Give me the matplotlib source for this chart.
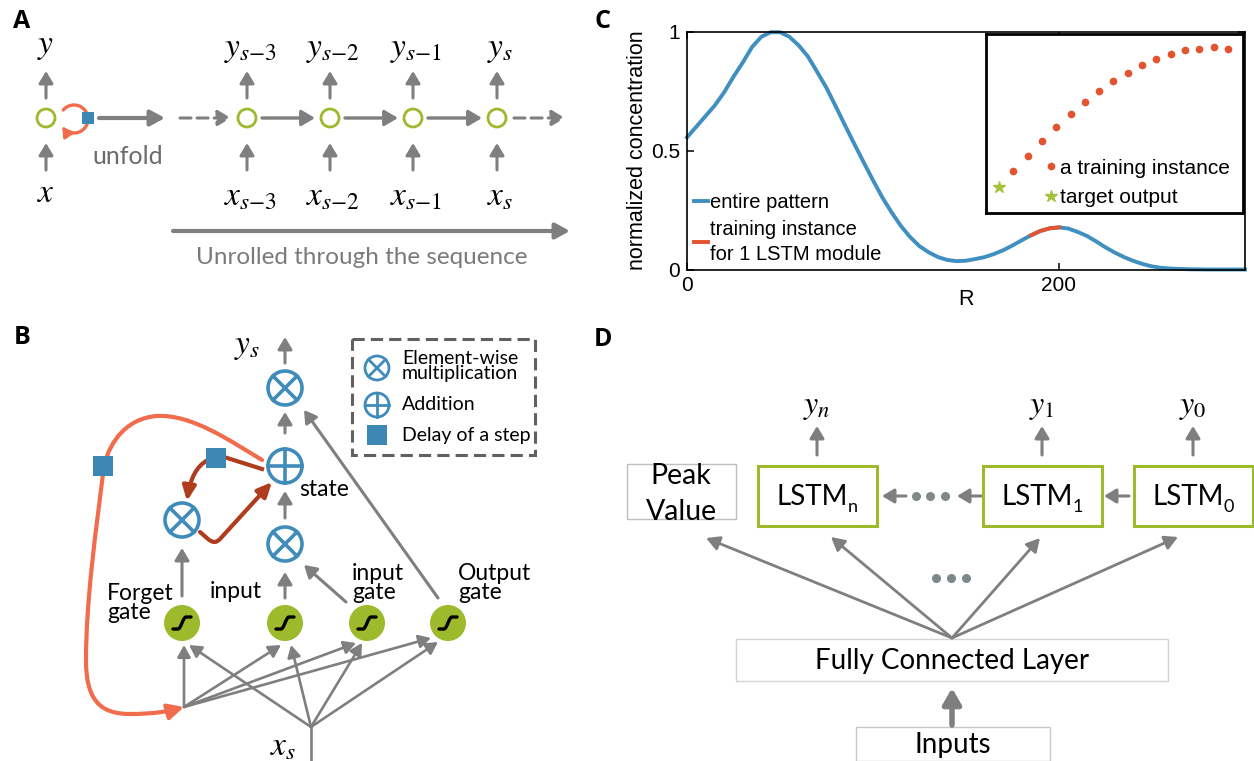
import numpy as np
import matplotlib.pyplot as plt
from matplotlib.patches import Circle, Rectangle, FancyArrowPatch, ArrowStyle
from matplotlib.path import Path

plt.rcParams['mathtext.fontset'] = 'stix'
plt.rcParams['font.family'] = ['Lato', 'DejaVu Sans']

# ---- panel C: concentration profile ----
r_pos = [0, 5, 10, 15, 20, 25, 30, 35, 40, 45, 50, 55, 60, 65, 70, 75, 80, 85, 90, 95,
         100, 105, 110, 115, 120, 125, 130, 135, 140, 145, 150, 155, 160, 165, 170, 175,
         180, 185, 190, 195, 200, 205, 210, 215, 220, 225, 230, 235, 240, 245, 250, 255,
         260, 270, 280, 290, 300]
conc = [0.555, 0.60, 0.645, 0.69, 0.745, 0.81, 0.87, 0.935, 0.978, 0.997, 0.997, 0.978,
        0.942, 0.895, 0.83, 0.763, 0.685, 0.605, 0.527, 0.45, 0.375, 0.303, 0.24, 0.183,
        0.136, 0.098, 0.072, 0.052, 0.040, 0.035, 0.037, 0.044, 0.052, 0.065, 0.081, 0.101,
        0.123, 0.144, 0.162, 0.173, 0.177, 0.172, 0.158, 0.141, 0.118, 0.093, 0.071, 0.052,
        0.036, 0.023, 0.013, 0.007, 0.004, 0.001, 0.0, 0.0, 0.0]
train_from, train_to = 185, 200

# inset: one training instance and its target
inst_vals = [0.238, 0.322, 0.404, 0.480, 0.553, 0.622, 0.683, 0.740, 0.785, 0.830,
             0.862, 0.892, 0.911, 0.920, 0.929, 0.920]
target_val = 0.149

# ---- diagram labels ----
seq_y = [r'$y_{s{-}3}$', r'$y_{s{-}2}$', r'$y_{s{-}1}$', r'$y_s$']
seq_x = [r'$x_{s{-}3}$', r'$x_{s{-}2}$', r'$x_{s{-}1}$', r'$x_s$']
gate_names = ['Forget\ngate', 'input', 'input\ngate', 'Output\ngate']
legend_b = ['Element-wise\nmultiplication', 'Addition', 'Delay of a step']
lstm_subs = ['n', '1', '0']
lstm_out = [r'$y_n$', r'$y_1$', r'$y_0$']

GRAY = '#7f7f7f'
GREEN = '#9cba2c'
BLUE = '#3f8cba'
SQ = '#3d87b5'
ORANGE = '#f06c4d'
DARKRED = '#b03c1e'
CBLUE = '#3f8fc0'
CRED = '#e4532f'

fig = plt.figure(figsize=(12.54, 7.61), dpi=100)
ax = fig.add_axes([0, 0, 1, 1])
ax.set_xlim(0, 1254)
ax.set_ylim(761, 0)
ax.axis('off')


def arrow(p0, p1, color=GRAY, lw=2.2, hl=10, hw=12, ls='-', z=2):
    st = ArrowStyle('-|>', head_length=hl * 0.72, head_width=hw * 0.36)
    ax.add_patch(FancyArrowPatch(p0, p1, arrowstyle=st, mutation_scale=1, color=color,
                                 lw=lw, linestyle=ls, shrinkA=0, shrinkB=0, zorder=z))


def path_arrow(verts, codes, color, lw, hl=11, hw=12, z=2):
    st = ArrowStyle('-|>', head_length=hl * 0.72, head_width=hw * 0.36)
    ax.add_patch(FancyArrowPatch(path=Path(verts, codes), arrowstyle=st, mutation_scale=1,
                                 color=color, lw=lw, zorder=z))


def square(cx, cy, s):
    ax.add_patch(Rectangle((cx - s / 2, cy - s / 2), s, s, fc=SQ, ec='none', zorder=5))


def op(cx, cy, r, kind, lw=2.6):
    ax.add_patch(Circle((cx, cy), r, fc='white', ec=BLUE, lw=lw, zorder=4))
    if kind == 'mul':
        d = r * 0.707
        ax.plot([cx - d, cx + d], [cy - d, cy + d], color=BLUE, lw=lw, zorder=5)
        ax.plot([cx - d, cx + d], [cy + d, cy - d], color=BLUE, lw=lw, zorder=5)
    else:
        ax.plot([cx - r, cx + r], [cy, cy], color=BLUE, lw=lw, zorder=5)
        ax.plot([cx, cx], [cy - r, cy + r], color=BLUE, lw=lw, zorder=5)


def sigmoid(cx, cy):
    ax.add_patch(Circle((cx, cy), 18, fc=GREEN, ec='none', zorder=4))
    v = [(cx - 9, cy + 6), (cx - 4, cy + 6), (cx - 1, cy + 6), (cx + 1, cy - 6),
         (cx + 4, cy - 6), (cx + 9, cy - 6)]
    c = [Path.MOVETO, Path.LINETO, Path.CURVE4, Path.CURVE4, Path.CURVE4, Path.LINETO]
    ax.add_patch(FancyArrowPatch(path=Path(v, c), arrowstyle='-', color='black', lw=2.4,
                                 zorder=5))


# panel letters
for lab, (px, py) in zip('ABCD', [(22, 22), (22, 338), (602, 21), (603, 339)]):
    ax.text(px, py, lab, fontsize=18, fontweight='bold', family='Open Sans',
            ha='center', va='center')

# ================= panel A =================
cy = 118
ax.add_patch(Circle((46, cy), 9, fc='white', ec=GREEN, lw=2.0, zorder=4))
arrow((46, 98), (46, 71))
arrow((46, 170), (46, 143))
ax.text(46, 47, r'$y$', fontsize=24, ha='center', va='center')
ax.text(46, 193, r'$x$', fontsize=24, ha='center', va='center')
arc = Path.arc(-140, 145)
path_arrow(arc.vertices * 14 + [74, 119], arc.codes, ORANGE, 2.4, hl=7, hw=9, z=3)
square(88, 118, 12)
arrow((99, cy), (165, cy), lw=3.0, hl=12, hw=13)
ax.text(128, 157, 'unfold', fontsize=18, color='#6b6b6b', ha='center', va='center')

cells = [247, 330, 413, 497]
arrow((180, cy), (231, cy), ls=(0, (3.6, 2)), hl=11, hw=13)
arrow((514, cy), (565, cy), ls=(0, (3.6, 2)), hl=11, hw=13)
for i, cx in enumerate(cells):
    ax.add_patch(Circle((cx, cy), 9, fc='white', ec=GREEN, lw=2.0, zorder=4))
    arrow((cx, 98), (cx, 71))
    arrow((cx, 170), (cx, 143))
    ax.text(cx + 3, 50, seq_y[i], fontsize=24, ha='center', va='center')
    ax.text(cx + 3, 197, seq_x[i], fontsize=24, ha='center', va='center')
    if i < 3:
        arrow((cx + 15, cy), (cells[i + 1] - 15, cy), lw=2.4, hl=11, hw=13)
arrow((173, 231), (570, 231), lw=3.0, hl=12, hw=13)
ax.text(362, 257, 'Unrolled through the sequence', fontsize=17.5, color='#7a7a7a',
        ha='center', va='center')

# ================= panel B =================
op(285, 388, 17, 'mul')
op(285, 466, 17, 'add')
op(285, 544, 17, 'mul')
op(182, 520, 17, 'mul')
arrow((285, 363), (285, 337))
arrow((285, 433), (285, 412))
arrow((285, 518), (285, 491))
ax.text(247, 347, r'$y_s$', fontsize=24, ha='center', va='center')
ax.text(324, 490, 'state', fontsize=16.5, ha='center', va='center')

gates = [182, 285, 367, 448]
for gx in gates:
    sigmoid(gx, 623)
arrow((182, 596), (182, 548))
arrow((285, 598), (285, 572))
arrow((346, 602), (304, 565))
arrow((438, 598), (304, 410))
ax.text(107, 603, gate_names[0], fontsize=16.5, ha='left', va='center', linespacing=0.85)
ax.text(236, 592, gate_names[1], fontsize=16.5, ha='center', va='center')
ax.text(352, 583, gate_names[2], fontsize=16.5, ha='left', va='center', linespacing=0.85)
ax.text(458, 583, gate_names[3], fontsize=16.5, ha='left', va='center', linespacing=0.85)

# inputs fanning into the gates
f1, f2 = (184, 707), (311, 727)
for tip in [(184, 645), (281, 645), (356, 643), (431, 638)]:
    arrow(f1, tip, lw=1.9, hl=10, hw=11)
for tip in [(189, 645), (291, 645), (362, 643), (438, 642)]:
    arrow(f2, tip, lw=1.9, hl=10, hw=11)
ax.plot([311, 311], [761, 727], color=GRAY, lw=1.9)
ax.text(283, 747, r'$x_s$', fontsize=24, ha='center', va='center')

# recurrent loops
M, C4, L = Path.MOVETO, Path.CURVE4, Path.LINETO
loop = [(262, 460), (232, 442), (192, 414), (157, 416), (128, 418), (110, 440), (104, 466),
        (96, 530), (86, 600), (86, 660), (86, 700), (100, 714), (130, 714), (155, 714),
        (170, 711), (184, 707)]
path_arrow(loop, [M] + [C4] * 15, ORANGE, 3.0, hl=13, hw=13, z=3)
square(103, 466, 20)
ax.plot([262, 224], [469, 457], color=DARKRED, lw=3.0, zorder=3)
path_arrow([(208, 460), (196, 466), (190, 480), (187, 501)], [M, C4, C4, C4], DARKRED, 3.0,
           hl=12, hw=11, z=3)
path_arrow([(200, 532), (208, 539), (213, 543), (216, 543), (220, 539), (272, 482)],
           [M, L, C4, C4, C4, L], DARKRED, 3.0, hl=12, hw=11, z=3)
square(216, 458, 20)

# legend box
ax.add_patch(Rectangle((352, 339), 183, 116, fill=False, ec='#606060', lw=2.2,
                       ls=(0, (4, 2)), zorder=3))
op(377, 368, 12, 'mul', lw=2.0)
op(377, 405, 12, 'add', lw=2.0)
square(377, 435, 20)
ax.text(402, 366, legend_b[0], fontsize=14, ha='left', va='center', linespacing=0.8)
ax.text(402, 405, legend_b[1], fontsize=14, ha='left', va='center')
ax.text(402, 435, legend_b[2], fontsize=14, ha='left', va='center')

# ================= panel D =================
boxes = [758, 983, 1134]
for i, bx in enumerate(boxes):
    ax.add_patch(Rectangle((bx, 466), 119, 60, fill=False, ec=GREEN, lw=2.2, zorder=3))
    t = ax.text(bx + 54, 497, 'LSTM', fontsize=20, ha='center', va='center')
    ax.annotate(lstm_subs[i], xy=(1, 0.1), xycoords=t, fontsize=13, ha='left', va='center')
    arrow((bx + 59, 455), (bx + 59, 426))
    ax.text(bx + 59, 407, lstm_out[i], fontsize=23, ha='center', va='center')
ax.add_patch(Rectangle((627, 464), 109, 55, fill=False, ec='#c0c0c0', lw=1.0))
ax.text(681, 494, 'Peak\nValue', fontsize=20.5, ha='center', va='center', linespacing=1.45)
arrow((1129, 496), (1104, 496), hl=10, hw=12)
arrow((981, 496), (957, 496), hl=10, hw=12)
arrow((906, 496), (882, 496), hl=10, hw=12)
ax.scatter([916, 930, 945], [496] * 3, s=30, color='#7f8a88', zorder=3)

ax.add_patch(Rectangle((736, 639), 432, 42, fill=False, ec='#d4d4d4', lw=1.0))
ax.text(952, 661, 'Fully Connected Layer', fontsize=20, ha='center', va='center')
hub = (952, 638)
for tip in [(706, 538), (831, 537), (1040, 538), (1178, 537)]:
    arrow(hub, tip, lw=2.0, hl=11, hw=12)
ax.scatter([936, 951, 966], [578] * 3, s=30, color='#7a8a88', zorder=3)
arrow((952, 725), (952, 688), lw=4.0, hl=13, hw=15)
ax.add_patch(Rectangle((856, 727), 194, 34, fill=False, ec='#c8c8c8', lw=1.0))
ax.text(953, 745, 'Inputs', fontsize=20, ha='center', va='center')

# ================= panel C =================
cfont = 'Liberation Sans'
axc = fig.add_axes([687 / 1254, 1 - 269.5 / 761, (1245 - 687) / 1254, 238 / 761])
r_arr = np.array(r_pos)
c_arr = np.array(conc)
axc.plot(r_arr, c_arr, color=CBLUE, lw=2.8, label='entire pattern', clip_on=False)
seg = (r_arr >= train_from) & (r_arr <= train_to)
axc.plot(r_arr[seg], c_arr[seg], color=CRED, lw=2.8, clip_on=False,
         label='training instance\nfor 1 LSTM module')
axc.set_xlim(0, 300)
axc.set_ylim(0, 1)
axc.set_xticks([0, 200])
axc.set_yticks([0, 0.5, 1])
axc.set_yticklabels(['0', '0.5', '1'])
axc.tick_params(direction='in', length=5, width=1.1, labelsize=15, top=True, right=True,
                pad=5)
for lab in axc.get_xticklabels() + axc.get_yticklabels():
    lab.set_family(cfont)
for s in axc.spines.values():
    s.set_linewidth(1.2)
axc.set_ylabel('normalized concentration', fontsize=15.5, family=cfont, labelpad=2)
axc.set_xlabel('R', fontsize=15.5, family=cfont)
axc.xaxis.set_label_coords(0.5, -0.082)
leg = axc.legend(loc='lower left', bbox_to_anchor=(0.012, 0.025), frameon=False,
                 prop={'family': cfont, 'size': 14.5}, handlelength=0.7, handletextpad=0.1,
                 labelspacing=0.4, borderaxespad=0, borderpad=0)
leg.get_texts()[1].set_linespacing(1.35)

axi = fig.add_axes([986 / 1254, 1 - 213.3 / 761, 257.3 / 1254, 179 / 761])
axi.plot(np.arange(1, len(inst_vals) + 1), inst_vals, 'o', color=CRED, ms=4.5,
         label='a training instance')
axi.plot([0], [target_val], '*', color='#a5c23c', ms=9, label='target output')
axi.set_xlim(-0.91, 17.08)
axi.set_ylim(0, 1)
axi.set_xticks([])
axi.set_yticks([])
for s in axi.spines.values():
    s.set_linewidth(2)
axi.legend(loc='lower left', bbox_to_anchor=(0.231, 0.035), frameon=False,
           prop={'family': cfont, 'size': 15}, handlelength=0.5, handletextpad=0.2,
           labelspacing=0.5, borderaxespad=0, borderpad=0, numpoints=1)

fig.savefig('out.png', dpi=100)
